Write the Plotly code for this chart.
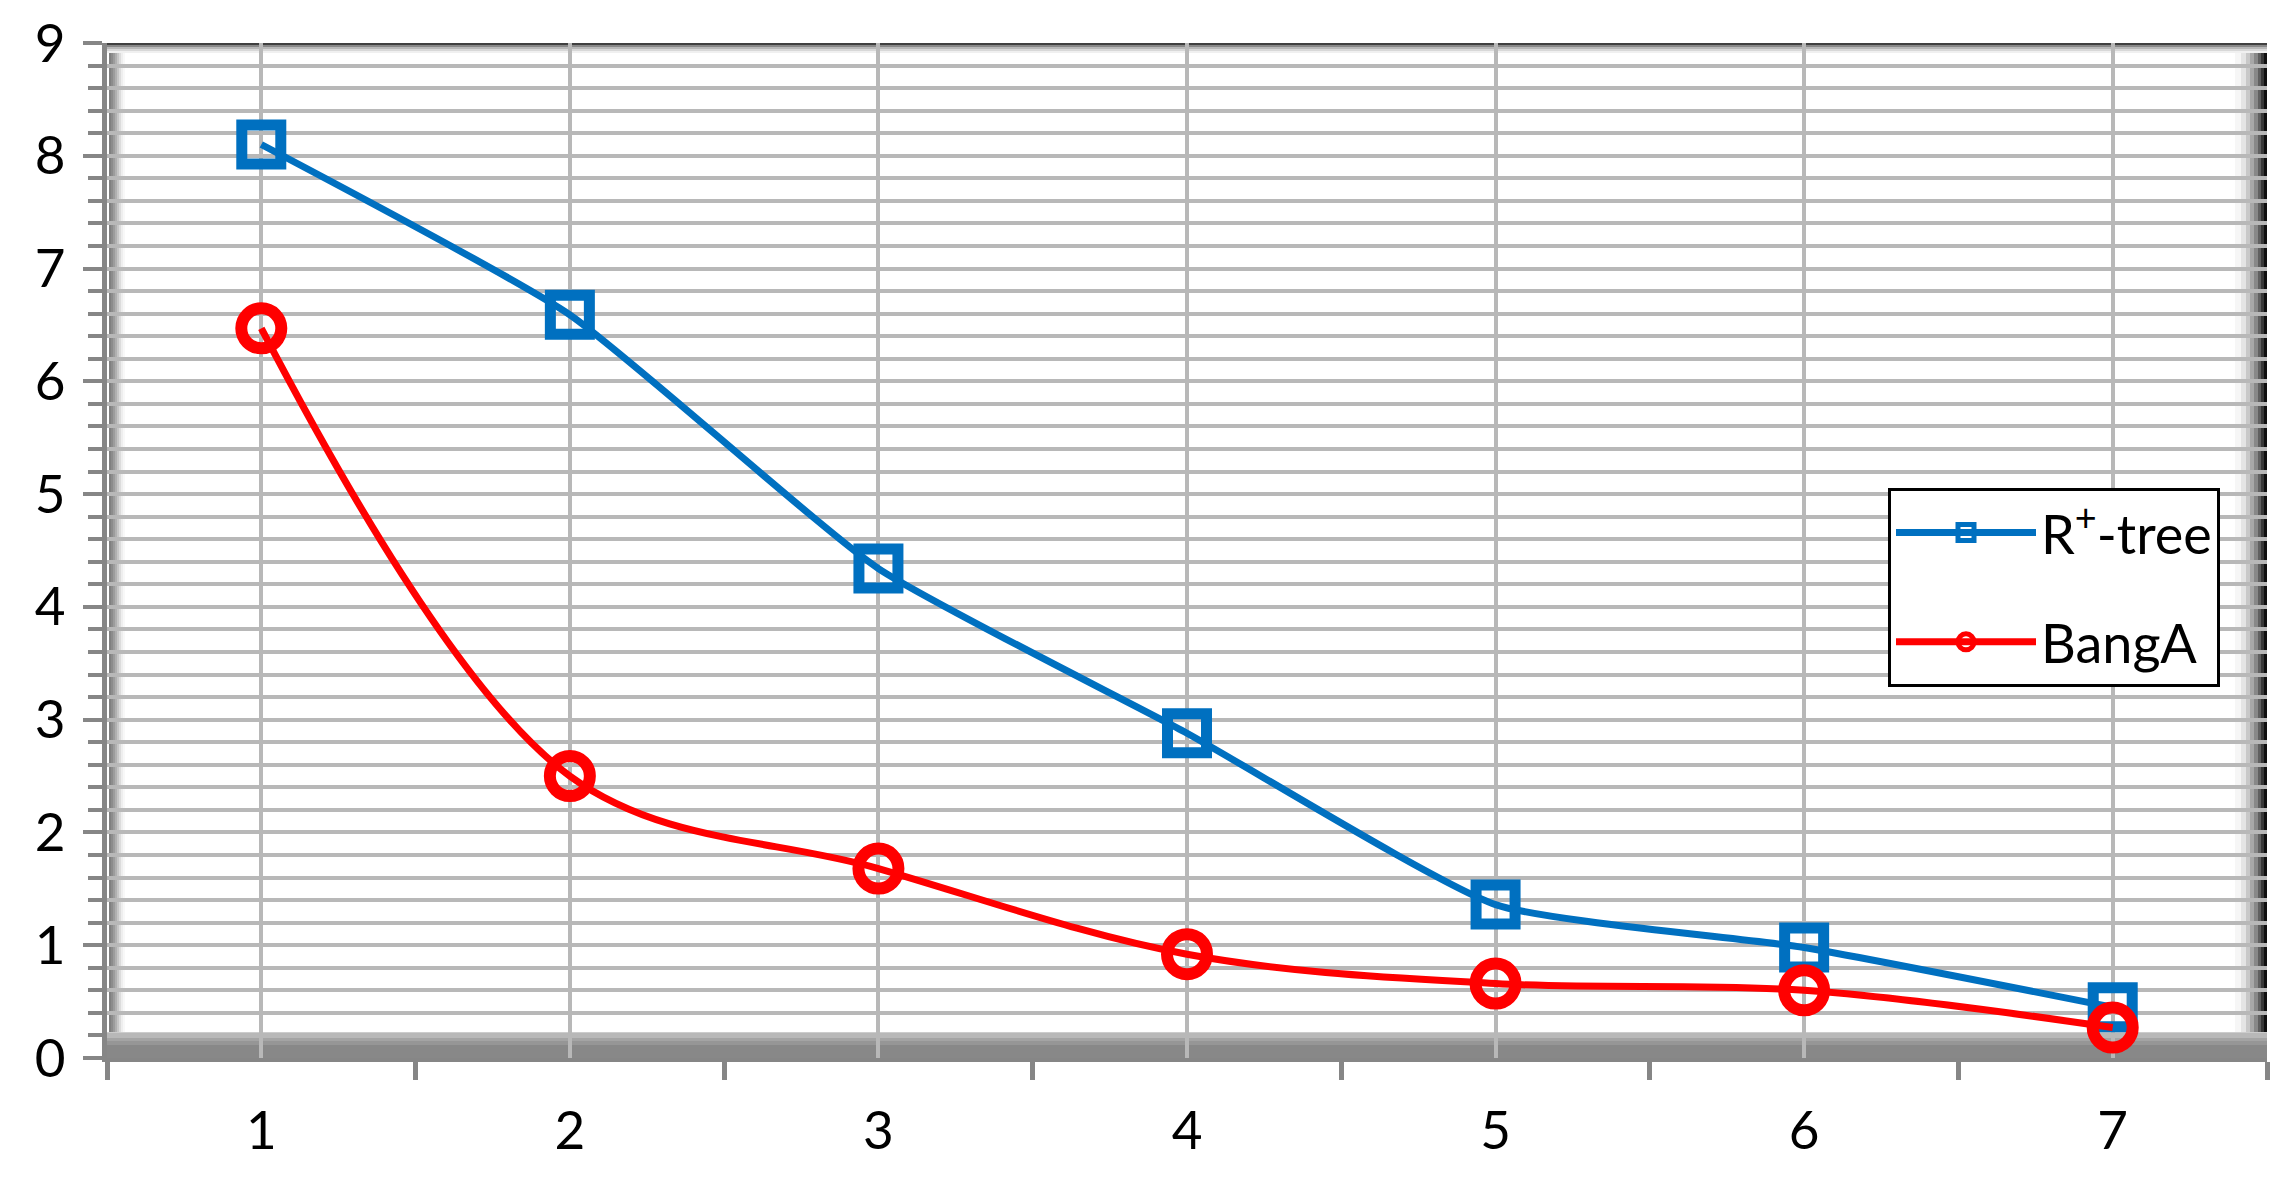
import plotly.graph_objects as go

# ---- data ----
categories = [1, 2, 3, 4, 5, 6, 7]
rplus_tree = [8.10, 6.59, 4.34, 2.88, 1.36, 0.98, 0.45]
banga = [6.47, 2.50, 1.68, 0.92, 0.66, 0.60, 0.27]
y_tick_vals = [0, 1, 2, 3, 4, 5, 6, 7, 8, 9]
series_names = ["R<sup>+</sup>-tree", "BangA"]

# page body has an 8px default margin, so the figure is sized to fit inside it
BODY = 8
W, H = 2290 - BODY, 1177 - BODY
ML, MR, MT, MB = 107 - BODY, 23, 43 - BODY, 119
FONT = "Lato"
AXIS_GRAY = "#868686"
GRID_GRAY = "#b8b8b8"

fig = go.Figure()
fig.add_trace(go.Scatter(
    x=categories, y=rplus_tree, name=series_names[0], mode="lines+markers",
    legendgroup="g1",
    line=dict(color="#0070C0", width=7, shape="spline", smoothing=0.5),
    marker=dict(symbol="square-open", size=39, color="#0070C0",
                line=dict(width=11, color="#0070C0")),
))
fig.add_trace(go.Scatter(
    x=categories, y=banga, name=series_names[1], mode="lines+markers",
    legendgroup="g2",
    line=dict(color="#FF0000", width=7, shape="spline", smoothing=1),
    marker=dict(symbol="circle-open", size=40, color="#FF0000",
                line=dict(width=12, color="#FF0000")),
))

shapes = []


def hstrip_x(p0, p1, color, anchor):
    shapes.append(dict(type="rect", xref="x domain", yref="y domain",
                       xsizemode="pixel", xanchor=anchor, x0=p0, x1=p1,
                       y0=0, y1=1, fillcolor=color, line=dict(width=0),
                       layer="below"))


def vstrip_y(p0, p1, color, anchor):
    shapes.append(dict(type="rect", xref="x domain", yref="y domain",
                       ysizemode="pixel", yanchor=anchor, y0=p0, y1=p1,
                       x0=0, x1=1, fillcolor=color, line=dict(width=0),
                       layer="below"))


# left wall shading
for i, g in enumerate([0x80, 0x8c, 0x9c, 0xb0, 0xc6, 0xdc, 0xee, 0xf8]):
    hstrip_x(2 + 2 * i, 4 + 2 * i, "#%02x%02x%02x" % (g, g, g), 0)
# right edge shading
for p0, p1, g in [(-32, -26, 0xf6), (-26, -21, 0xe4), (-21, -17, 0xc8),
                  (-17, -13, 0xa8), (-13, -9, 0x88), (-9, -6, 0x60),
                  (-6, -3, 0x38), (-3, 0, 0x10)]:
    hstrip_x(p0, p1, "#%02x%02x%02x" % (g, g, g), 1)
# top edge
for p0, p1, g in [(-2, 0, 0x40), (-4, -2, 0x88), (-6, -4, 0xb8),
                  (-8, -6, 0xd8), (-10, -8, 0xf0)]:
    vstrip_y(p0, p1, "#%02x%02x%02x" % (g, g, g), 1)
# floor
for p0, p1, g in [(-2, 13, 0x88), (13, 17, 0x96), (17, 20, 0xa4),
                  (20, 23, 0xb8), (23, 26, 0xcc)]:
    vstrip_y(p0, p1, "#%02x%02x%02x" % (g, g, g), 0)

PW, PH = W - ML - MR, H - MT - MB
fig.update_layout(
    width=W, height=H,
    margin=dict(l=ML, r=MR, t=MT, b=MB, pad=0, autoexpand=False),
    paper_bgcolor="white", plot_bgcolor="white",
    font=dict(family=FONT, size=53, color="black"),
    shapes=shapes,
    showlegend=True,
    legend=dict(
        x=(1888 - BODY - ML) / PW, y=(H - MB - (488 - BODY)) / PH,
        xanchor="left", yanchor="top",
        bgcolor="white", bordercolor="black", borderwidth=3,
        font=dict(family=FONT, size=54, color="black"),
        tracegroupgap=36, itemwidth=140,
    ),
)

fig.update_xaxes(
    range=[0.5, 7.5], tickvals=categories, ticktext=[str(c) for c in categories],
    ticks="", showgrid=True, gridcolor=GRID_GRAY, gridwidth=3.5,
    showline=True, linecolor=AXIS_GRAY, linewidth=4, automargin=False,
    zeroline=False, ticklabelstandoff=23,
    minor=dict(ticks="outside", tick0=0.5, dtick=1, ticklen=18,
               tickwidth=5, tickcolor=AXIS_GRAY, showgrid=False),
)
fig.update_yaxes(
    range=[0, 9], tickvals=y_tick_vals, ticks="outside", ticklen=19,
    tickwidth=4, tickcolor=AXIS_GRAY, showgrid=False, automargin=False,
    showline=True, linecolor=AXIS_GRAY, linewidth=5, zeroline=False,
    ticklabelstandoff=7,
    minor=dict(ticks="outside", tick0=0, dtick=0.2, ticklen=14, tickwidth=4,
               tickcolor=AXIS_GRAY, showgrid=True, gridcolor=GRID_GRAY,
               gridwidth=3.5),
)

fig.write_html("out.html")
